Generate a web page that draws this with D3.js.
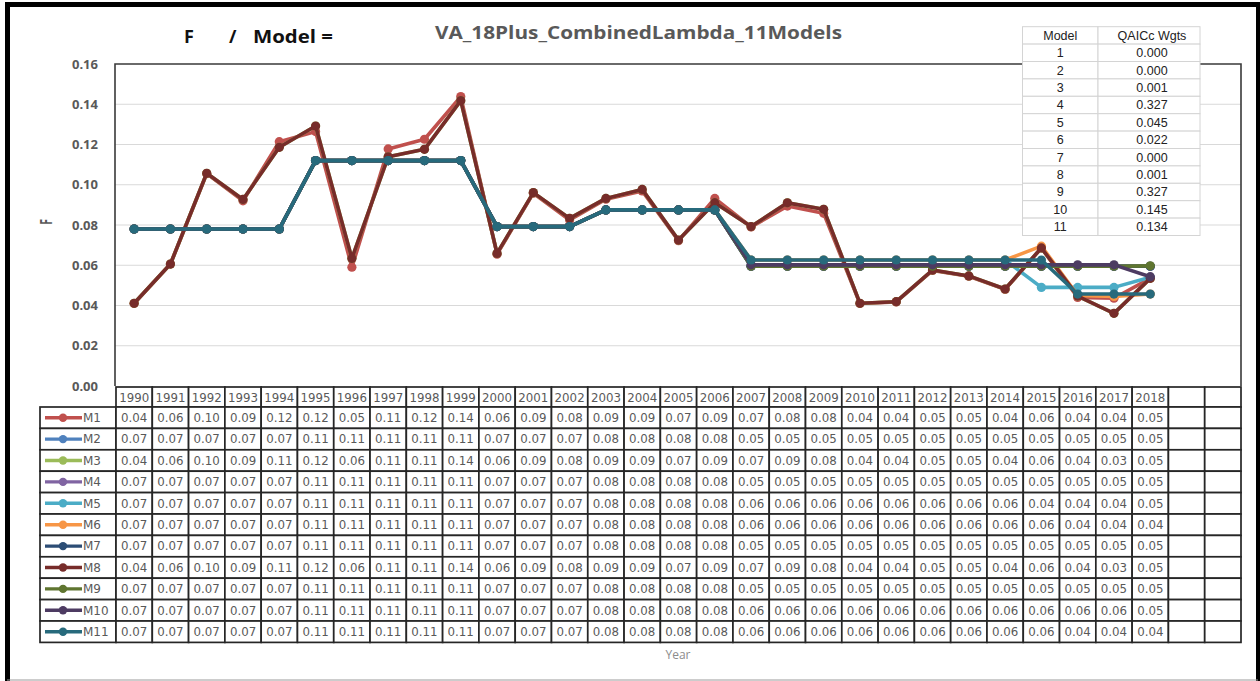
<!DOCTYPE html>
<html>
<head>
<meta charset="utf-8">
<script src="https://cdn.jsdelivr.net/npm/d3@7/dist/d3.min.js"></script>
<style>
  html, body { margin: 0; padding: 0; background: #fff; }
  svg { display: block; }
</style>
</head>
<body>
<svg id="chart" width="1260" height="681"></svg>
<script>
// ---- Data ----
const years = [1990,1991,1992,1993,1994,1995,1996,1997,1998,1999,2000,2001,2002,2003,2004,2005,2006,2007,2008,2009,2010,2011,2012,2013,2014,2015,2016,2017,2018];
const yTicks = [0, 0.02, 0.04, 0.06, 0.08, 0.10, 0.12, 0.14, 0.16];
const seriesNames = ["M1","M2","M3","M4","M5","M6","M7","M8","M9","M10","M11"];
const seriesColors = ["#c0504d","#4f81bd","#9bbb59","#8064a2","#4bacc6","#f79646","#2c4d75","#772c2a","#5f7530","#4d3b62","#276a7c"];

const m1  = [0.0410,0.0606,0.1055,0.0920,0.1214,0.1264,0.0590,0.1178,0.1226,0.1438,0.0655,0.0958,0.0825,0.0928,0.0969,0.0722,0.0932,0.0790,0.0894,0.0858,0.0410,0.0418,0.0574,0.0545,0.0480,0.0686,0.0440,0.0436,0.0535];
const m2  = [0.0780,0.0780,0.0780,0.0780,0.0780,0.1120,0.1120,0.1120,0.1120,0.1120,0.0792,0.0792,0.0792,0.0875,0.0875,0.0875,0.0875,0.0595,0.0595,0.0595,0.0595,0.0595,0.0595,0.0595,0.0595,0.0595,0.0595,0.0595,0.0595];
const m3  = [0.0411,0.0606,0.1057,0.0927,0.1186,0.1292,0.0634,0.1139,0.1176,0.1418,0.0659,0.0961,0.0833,0.0932,0.0977,0.0725,0.0911,0.0792,0.0910,0.0878,0.0411,0.0419,0.0576,0.0547,0.0482,0.0686,0.0447,0.0361,0.0535];
const m4  = [0.0780,0.0780,0.0780,0.0780,0.0780,0.1120,0.1120,0.1120,0.1120,0.1120,0.0792,0.0792,0.0792,0.0875,0.0875,0.0875,0.0875,0.0595,0.0595,0.0595,0.0595,0.0595,0.0595,0.0595,0.0595,0.0595,0.0595,0.0595,0.0595];
const m5  = [0.0780,0.0780,0.0780,0.0780,0.0780,0.1120,0.1120,0.1120,0.1120,0.1120,0.0792,0.0792,0.0792,0.0875,0.0875,0.0875,0.0875,0.0626,0.0626,0.0626,0.0626,0.0626,0.0626,0.0626,0.0626,0.0490,0.0490,0.0490,0.0540];
const m6  = [0.0780,0.0780,0.0780,0.0780,0.0780,0.1120,0.1120,0.1120,0.1120,0.1120,0.0792,0.0792,0.0792,0.0875,0.0875,0.0875,0.0875,0.0626,0.0626,0.0626,0.0626,0.0626,0.0626,0.0626,0.0626,0.0695,0.0450,0.0445,0.0457];
const m7  = [0.0780,0.0780,0.0780,0.0780,0.0780,0.1120,0.1120,0.1120,0.1120,0.1120,0.0792,0.0792,0.0792,0.0875,0.0875,0.0875,0.0875,0.0595,0.0595,0.0595,0.0595,0.0595,0.0595,0.0595,0.0595,0.0595,0.0595,0.0595,0.0595];
const m8  = [0.0411,0.0606,0.1057,0.0927,0.1186,0.1292,0.0634,0.1139,0.1176,0.1418,0.0659,0.0961,0.0833,0.0932,0.0977,0.0725,0.0911,0.0792,0.0910,0.0878,0.0411,0.0419,0.0576,0.0547,0.0482,0.0686,0.0447,0.0361,0.0535];
const m9  = [0.0780,0.0780,0.0780,0.0780,0.0780,0.1120,0.1120,0.1120,0.1120,0.1120,0.0792,0.0792,0.0792,0.0875,0.0875,0.0875,0.0875,0.0595,0.0595,0.0595,0.0595,0.0595,0.0595,0.0595,0.0595,0.0595,0.0595,0.0595,0.0597];
const m10 = [0.0780,0.0780,0.0780,0.0780,0.0780,0.1120,0.1120,0.1120,0.1120,0.1120,0.0792,0.0792,0.0792,0.0875,0.0875,0.0875,0.0875,0.0602,0.0602,0.0602,0.0602,0.0602,0.0602,0.0602,0.0602,0.0602,0.0602,0.0602,0.0543];
const m11 = [0.0780,0.0780,0.0780,0.0780,0.0780,0.1120,0.1120,0.1120,0.1120,0.1120,0.0792,0.0792,0.0792,0.0875,0.0875,0.0875,0.0875,0.0626,0.0626,0.0626,0.0626,0.0626,0.0626,0.0626,0.0626,0.0626,0.0457,0.0457,0.0457];
const seriesValues = [m1,m2,m3,m4,m5,m6,m7,m8,m9,m10,m11];

const weightModels = ["1","2","3","4","5","6","7","8","9","10","11"];
const weightValues = ["0.000","0.000","0.001","0.327","0.045","0.022","0.000","0.001","0.327","0.145","0.134"];

// ---- Layout ----
const svg = d3.select("#chart");
const plotLeft = 115, plotRight = 1241, plotTop = 64, plotBottom = 386;
const spareCols = 2;
const x = d3.scaleBand().domain(d3.range(years.length + spareCols)).range([116, plotRight]).paddingInner(0).paddingOuter(0);
const y = d3.scaleLinear().domain([0, 0.16]).range([plotBottom, plotTop]);
const cx = i => x(i) + x.bandwidth() / 2;

const gray = "#595959";
const tableFont = "'DejaVu Sans', sans-serif";

// outer frame
svg.append("line").attr("x1", 5).attr("x2", 1260).attr("y1", 4.5).attr("y2", 4.5).attr("stroke", "#000").attr("stroke-width", 5);
svg.append("line").attr("x1", 7.5).attr("x2", 7.5).attr("y1", 2).attr("y2", 681).attr("stroke", "#000").attr("stroke-width", 5);
svg.append("line").attr("x1", 1258).attr("x2", 1258).attr("y1", 2).attr("y2", 681).attr("stroke", "#000").attr("stroke-width", 4);
svg.append("line").attr("x1", 7).attr("x2", 1258).attr("y1", 680).attr("y2", 680).attr("stroke", "#9a9a9a").attr("stroke-width", 1);

// titles
const titleFont = "'Open Sans', 'Liberation Sans', sans-serif";
svg.append("text").attr("x", 184).attr("y", 43).attr("font-family", titleFont).attr("font-weight", "bold").attr("font-size", 18).attr("fill", "#111").text("F");
svg.append("text").attr("x", 229).attr("y", 43).attr("font-family", titleFont).attr("font-weight", "bold").attr("font-size", 18).attr("fill", "#111").text("/");
svg.append("text").attr("x", 253).attr("y", 43).attr("font-family", titleFont).attr("font-weight", "bold").attr("font-size", 18).attr("fill", "#111")
  .attr("textLength", 80).attr("lengthAdjust", "spacingAndGlyphs").text("Model =");
svg.append("text").attr("x", 435).attr("y", 39).attr("font-family", titleFont).attr("font-weight", "bold").attr("font-size", 18).attr("fill", gray)
  .attr("textLength", 407).attr("lengthAdjust", "spacingAndGlyphs").text("VA_18Plus_CombinedLambda_11Models");

// gridlines
svg.append("g").selectAll("line").data(yTicks.filter(t => t > 0 && t < 0.16)).join("line")
  .attr("x1", plotLeft).attr("x2", plotRight).attr("y1", d => y(d)).attr("y2", d => y(d))
  .attr("stroke", "#d9d9d9").attr("stroke-width", 1.2);

// plot frame
svg.append("path").attr("d", `M${plotLeft},${plotBottom}V${plotTop}H${plotRight}V${plotBottom}`)
  .attr("fill", "none").attr("stroke", "#3a3a3a").attr("stroke-width", 1.6);

// y axis
const yAxis = svg.append("g").attr("transform", "translate(104,0)")
  .call(d3.axisLeft(y).tickValues(yTicks).tickFormat(d3.format(".2f")).tickSize(0).tickPadding(6));
yAxis.select(".domain").remove();
yAxis.selectAll("text").attr("font-family", titleFont).attr("font-weight", "bold").attr("font-size", 13).attr("fill", gray);

svg.append("text").attr("transform", "translate(52,222) rotate(-90) scale(0.8,1.25)").attr("text-anchor", "middle")
  .attr("font-family", titleFont).attr("font-weight", "bold").attr("font-size", 13).attr("fill", gray).text("F");

// series lines and markers (M1 drawn first, M11 last)
const line = d3.line().x((d, i) => cx(i)).y(d => y(d));
const seriesG = svg.append("g");
seriesValues.forEach((vals, s) => {
  const g = seriesG.append("g");
  g.append("path").attr("d", line(vals)).attr("fill", "none").attr("stroke", seriesColors[s])
    .attr("stroke-width", 3.6).attr("stroke-linejoin", "round").attr("stroke-linecap", "round");
  g.selectAll("circle").data(vals).join("circle")
    .attr("cx", (d, i) => cx(i)).attr("cy", d => y(d)).attr("r", 4.6).attr("fill", seriesColors[s]);
});

// ---- Data table ----
const trunc2 = v => (Math.floor(v * 100 + 1e-9) / 100).toFixed(2);
const headTop = 387, rowTop = 407, rowH = 21.4;
const legLeft = 40;
const tbl = svg.append("g");
const tblStroke = "#262626";

// header row of years
years.concat(d3.range(spareCols).map(() => "")).forEach((yr, i) => {
  tbl.append("rect").attr("x", x(i)).attr("y", headTop).attr("width", x.bandwidth()).attr("height", rowTop - headTop)
    .attr("fill", "#fff").attr("stroke", tblStroke).attr("stroke-width", 1.7);
  if (yr !== "") tbl.append("text").attr("x", cx(i)).attr("y", headTop + 14.5).attr("text-anchor", "middle")
    .attr("font-family", tableFont).attr("font-size", 11.8).attr("fill", gray).text(yr);
});

seriesNames.forEach((name, s) => {
  const top = rowTop + s * rowH;
  tbl.append("rect").attr("x", legLeft).attr("y", top).attr("width", x(0) - legLeft).attr("height", rowH)
    .attr("fill", "#fff").attr("stroke", tblStroke).attr("stroke-width", 1.7);
  tbl.append("line").attr("x1", 45).attr("x2", 82).attr("y1", top + rowH / 2).attr("y2", top + rowH / 2)
    .attr("stroke", seriesColors[s]).attr("stroke-width", 3.4);
  tbl.append("circle").attr("cx", 63).attr("cy", top + rowH / 2).attr("r", 4.2).attr("fill", seriesColors[s]);
  tbl.append("text").attr("x", 83).attr("y", top + rowH / 2 + 4.3)
    .attr("font-family", tableFont).attr("font-size", 12).attr("fill", gray).text(name);
  for (let i = 0; i < years.length + spareCols; i++) {
    tbl.append("rect").attr("x", x(i)).attr("y", top).attr("width", x.bandwidth()).attr("height", rowH)
      .attr("fill", "#fff").attr("stroke", tblStroke).attr("stroke-width", 1.7);
    if (i < years.length) {
      tbl.append("text").attr("x", cx(i)).attr("y", top + rowH / 2 + 4.3).attr("text-anchor", "middle")
        .attr("font-family", tableFont).attr("font-size", 11.8).attr("fill", gray).text(trunc2(seriesValues[s][i]));
    }
  }
});

svg.append("text").attr("x", 678).attr("y", 659).attr("text-anchor", "middle")
  .attr("font-family", titleFont).attr("font-size", 12).attr("fill", "#8c8c8c").text("Year");

// ---- QAICc weights table ----
const wLeft = 1022.5, wMid = 1098, wRight = 1200, wTop = 26.7, wRowH = 17.4;
const wt = svg.append("g");
const wRows = [["Model", "QAICc Wgts"]].concat(weightModels.map((m, i) => [m, weightValues[i]]));
wRows.forEach((r, i) => {
  const top = wTop + i * wRowH;
  wt.append("rect").attr("x", wLeft).attr("y", top).attr("width", wMid - wLeft).attr("height", wRowH)
    .attr("fill", "#fff").attr("stroke", "#d4d4d4").attr("stroke-width", 1);
  wt.append("rect").attr("x", wMid).attr("y", top).attr("width", wRight - wMid).attr("height", wRowH)
    .attr("fill", "#fff").attr("stroke", "#d4d4d4").attr("stroke-width", 1);
  wt.append("text").attr("x", (wLeft + wMid) / 2).attr("y", top + 13).attr("text-anchor", "middle")
    .attr("font-family", "'Liberation Sans', Arial, sans-serif").attr("font-size", 12.5).attr("fill", "#222").text(r[0]);
  wt.append("text").attr("x", (wMid + wRight) / 2 + 3).attr("y", top + 13).attr("text-anchor", "middle")
    .attr("font-family", "'Liberation Sans', Arial, sans-serif").attr("font-size", 12.5).attr("fill", "#222").text(r[1]);
});
</script>
</body>
</html>
